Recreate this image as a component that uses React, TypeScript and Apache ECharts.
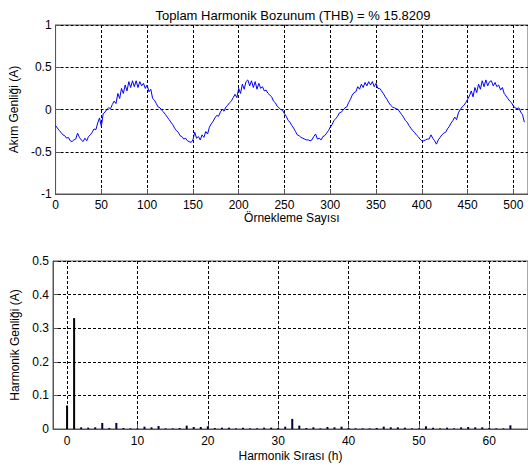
import React, { useEffect, useRef } from "react";
import * as echarts from "echarts";

// Top panel: sample index step and current amplitude samples (A), n = 0, 2, 4, ... 512
const sampleStep = 2;
const currentSamples = [
  -0.19, -0.22, -0.25, -0.27, -0.30, -0.31, -0.34, -0.33, -0.37, -0.38,
  -0.36, -0.35, -0.28, -0.33, -0.36, -0.38, -0.34, -0.37, -0.32, -0.30,
  -0.27, -0.23, -0.24, -0.16, -0.10, -0.20, -0.05, -0.03, 0.00, 0.02,
  0.01, 0.06, 0.10, 0.07, 0.19, 0.13, 0.25, 0.19, 0.29, 0.22,
  0.33, 0.26, 0.34, 0.27, 0.34, 0.26, 0.33, 0.28, 0.31, 0.25,
  0.29, 0.21, 0.24, 0.13, 0.11, 0.07, 0.03, 0.02, -0.01, -0.03,
  -0.06, -0.09, -0.12, -0.15, -0.18, -0.22, -0.25, -0.27, -0.31, -0.32,
  -0.35, -0.34, -0.37, -0.38, -0.39, -0.36, -0.27, -0.34, -0.32, -0.36,
  -0.30, -0.33, -0.26, -0.29, -0.21, -0.17, -0.14, -0.10, -0.07, -0.08,
  -0.03, 0.00, -0.02, 0.03, 0.05, 0.08, 0.10, 0.14, 0.18, 0.14,
  0.25, 0.19, 0.30, 0.24, 0.33, 0.35, 0.28, 0.34, 0.26, 0.33,
  0.24, 0.31, 0.25, 0.27, 0.22, 0.23, 0.19, 0.17, 0.15, 0.10,
  0.08, 0.04, 0.02, 0.00, -0.01, -0.05, -0.08, -0.13, -0.15, -0.19,
  -0.22, -0.26, -0.30, -0.31, -0.33, -0.34, -0.35, -0.36, -0.36, -0.37,
  -0.36, -0.32, -0.29, -0.35, -0.34, -0.36, -0.32, -0.31, -0.28, -0.25,
  -0.21, -0.18, -0.13, -0.11, -0.08, -0.04, -0.03, -0.01, 0.02, 0.03,
  0.08, 0.12, 0.17, 0.20, 0.21, 0.27, 0.24, 0.30, 0.26, 0.32,
  0.28, 0.33, 0.29, 0.33, 0.27, 0.31, 0.25, 0.25, 0.22, 0.19,
  0.15, 0.12, 0.08, 0.05, 0.03, 0.02, 0.01, 0.00, -0.03, -0.06,
  -0.09, -0.13, -0.15, -0.19, -0.22, -0.25, -0.27, -0.30, -0.32, -0.35,
  -0.37, -0.37, -0.36, -0.35, -0.35, -0.30, -0.34, -0.37, -0.41, -0.36,
  -0.33, -0.30, -0.28, -0.27, -0.23, -0.20, -0.16, -0.13, -0.09, -0.12,
  -0.04, 0.00, 0.03, 0.05, 0.08, 0.12, 0.16, 0.22, 0.15, 0.26,
  0.20, 0.30, 0.24, 0.34, 0.27, 0.35, 0.28, 0.33, 0.34, 0.28,
  0.32, 0.27, 0.29, 0.23, 0.26, 0.19, 0.16, 0.13, 0.10, 0.08,
  0.04, 0.02, 0.01, 0.02, -0.03, -0.06, -0.15,
];

// Bottom panel: harmonic orders and amplitudes (A)
const harmonicOrders = [
  0, 1, 2, 3, 4, 5, 6, 7, 8, 9, 10, 11, 12, 13, 14, 15, 16, 17, 18, 19, 20,
  21, 22, 23, 24, 25, 26, 27, 28, 29, 30, 31, 32, 33, 34, 35, 36, 37, 38, 39, 40,
  41, 42, 43, 44, 45, 46, 47, 48, 49, 50, 51, 52, 53, 54, 55, 56, 57, 58, 59, 60,
  61, 62, 63,
];
const harmonicAmps = [
  0.07, 0.33, 0.005, 0.004, 0.005, 0.018, 0.003, 0.018, 0.003, 0.002, 0.002,
  0.007, 0.005, 0.009, 0.002, 0.002, 0.003, 0.01, 0.006, 0.006, 0.008,
  0.003, 0.004, 0.004, 0.002, 0.004, 0.002, 0.002, 0.004, 0.004, 0.003,
  0.007, 0.03, 0.01, 0.003, 0.005, 0.002, 0.006, 0.005, 0.007, 0.003,
  0.002, 0.002, 0.002, 0.003, 0.007, 0.005, 0.005, 0.004, 0.002, 0.002,
  0.008, 0.004, 0.002, 0.004, 0.002, 0.005, 0.006, 0.005, 0.005, 0.003,
  0.002, 0.002, 0.011,
];

const topXTicks = [0, 50, 100, 150, 200, 250, 300, 350, 400, 450, 500];
const bottomXTicks = [0, 10, 20, 30, 40, 50, 60];

const titleText = "Toplam Harmonik Bozunum (THB) = % 15.8209";

export default function App() {
  const ref = useRef<HTMLDivElement>(null);
  useEffect(() => {
    document.body.style.margin = "0";
    if (!ref.current) return;
    const chart = echarts.init(ref.current, undefined, { renderer: "svg" });
    const font = "Liberation Sans, Arial, sans-serif";
    const axisLine = { show: true, onZero: false, lineStyle: { color: "#555", width: 1 } };
    const splitLine = {
      show: true,
      lineStyle: { color: "#000", type: [3, 2] as any, width: 1 },
    };
    const tick = { show: true, inside: true, length: 5, lineStyle: { color: "#555" } };
    const lbl = { color: "#000", fontSize: 12, fontFamily: font };
    const nameStyle = { color: "#000", fontSize: 12, fontFamily: font };

    const lineData = currentSamples.map((v, i) => [i * sampleStep, v]);
    const barData = harmonicOrders.map((h, i) => ({
      value: [h, harmonicAmps[i]],
      itemStyle: { color: h <= 1 ? "#000000" : "#00003a" },
    }));

    chart.setOption({
      animation: false,
      backgroundColor: "#fff",
      title: {
        text: titleText,
        left: 288,
        top: 4,
        textAlign: "center",
        textStyle: { fontSize: 13, fontWeight: "normal", color: "#000", fontFamily: font },
      },
      grid: [
        { left: 53, right: -1, top: 25, height: 169, show: true, borderColor: "#555", borderWidth: 1, backgroundColor: "#fff" },
        { left: 53, right: -1, top: 261, height: 168, show: true, borderColor: "#555", borderWidth: 1, backgroundColor: "#fff" },
      ],
      xAxis: [
        {
          gridIndex: 0,
          type: "value",
          min: 0,
          max: 516,
          axisLine,
          axisTick: { ...tick, customValues: topXTicks },
          splitLine,
          axisLabel: {
            ...lbl,
            margin: 5,
            customValues: topXTicks,
            formatter: (v: number) => (v % 50 === 0 ? String(v) : ""),
          },
          name: "Örnekleme Sayısı",
          nameLocation: "middle",
          nameGap: 18,
          nameTextStyle: nameStyle,
        },
        {
          gridIndex: 1,
          type: "value",
          min: -2,
          max: 65.5,
          axisLine,
          axisTick: { ...tick, customValues: bottomXTicks },
          splitLine,
          axisLabel: {
            ...lbl,
            margin: 6,
            customValues: bottomXTicks,
            formatter: (v: number) => (v % 10 === 0 ? String(v) : ""),
          },
          name: "Harmonik Sırası (h)",
          nameLocation: "middle",
          nameGap: 21,
          nameTextStyle: nameStyle,
        },
      ],
      yAxis: [
        {
          gridIndex: 0,
          type: "value",
          min: -1,
          max: 1,
          interval: 0.5,
          axisLine,
          axisTick: tick,
          splitLine,
          axisLabel: { ...lbl, margin: 4 },
          name: "Akım Genliği (A)",
          nameLocation: "middle",
          nameGap: 32,
          nameTextStyle: nameStyle,
        },
        {
          gridIndex: 1,
          type: "value",
          min: 0,
          max: 0.5,
          interval: 0.1,
          axisLine,
          axisTick: tick,
          splitLine,
          axisLabel: { ...lbl, margin: 4 },
          name: "Harmonik Genliği (A)",
          nameLocation: "middle",
          nameGap: 30,
          nameTextStyle: nameStyle,
        },
      ],
      series: [
        {
          type: "line",
          xAxisIndex: 0,
          yAxisIndex: 0,
          data: lineData,
          showSymbol: false,
          lineStyle: { color: "#0000ff", width: 1 },
          itemStyle: { color: "#0000ff" },
        },
        {
          type: "bar",
          xAxisIndex: 1,
          yAxisIndex: 1,
          data: barData,
          barWidth: 2,
        },
      ],
    });
    return () => chart.dispose();
  }, []);
  return <div ref={ref} style={{ width: 528, height: 468 }} />;
}
